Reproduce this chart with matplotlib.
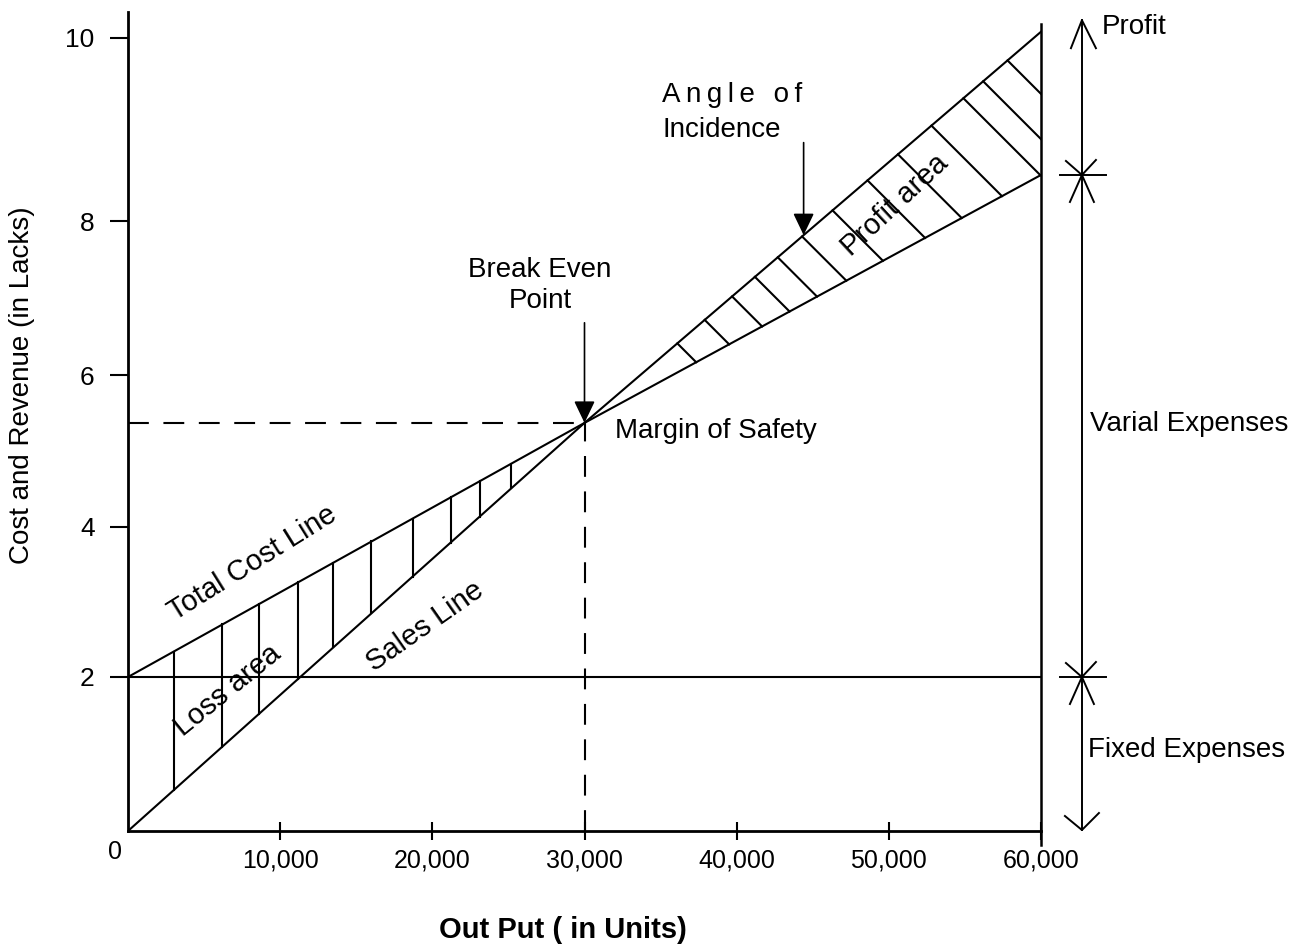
import numpy as np
import matplotlib.pyplot as plt

plt.rcParams['font.family'] = ['Liberation Sans', 'DejaVu Sans']

# data
output = [0, 30000, 60000]
sales = [0, 5.3, 10.38]
total_cost = [2, 5.3, 8.52]
fixed_cost = 2.0
break_even = (30000, 5.3)

xtick_vals = [10000, 20000, 30000, 40000, 50000, 60000]
xtick_labels = ['10,000', '20,000', '30,000', '40,000', '50,000', '60,000']
ytick_vals = [2, 3.95, 5.92, 7.92, 10.3]
ytick_labels = ['2', '4', '6', '8', '10']

loss_hatch_x = [3000, 6200, 8600, 11200, 13500, 16000, 18700, 21200, 23100, 25200]
profit_hatch_x = [36100, 37900, 39700, 41200, 42700, 44300, 46300, 48600,
                  50600, 52800, 54900, 56200, 57800]
angle_x = 44400
arrow_x = 62690

# figure / axes
W, H = 1303, 947
fig = plt.figure(figsize=(W / 100, H / 100), dpi=100)
ax = fig.add_axes([128 / W, 1 - 831 / H, 913 / W, 819 / H])
ax.set_xlim(0, 60000)
ax.set_ylim(0, 819 / 77)

# data units per pixel
UX = 60000 / 913
UY = (819 / 77) / 819

LW = 1.5
K = 'black'

for s in ['top', 'right']:
    ax.spines[s].set_visible(False)
ax.spines['left'].set_linewidth(2)
ax.spines['bottom'].set_linewidth(2)

ax.set_xticks(xtick_vals)
ax.set_xticklabels(xtick_labels)
ax.set_yticks(ytick_vals)
ax.set_yticklabels(ytick_labels)
ax.tick_params(axis='x', direction='inout', length=13, width=1.5, labelsize=18, pad=6)
ax.tick_params(axis='y', direction='out', length=13, width=1.5, labelsize=19, pad=11)
ax.annotate('0', xy=(0, 0), xytext=(-9.5, -15), textcoords='offset points',
            ha='center', va='center', fontsize=18, annotation_clip=False)

# main lines
ax.plot(output, sales, color=K, lw=LW)
ax.plot(output, total_cost, color=K, lw=LW)
ax.plot([0, 60000], [fixed_cost, fixed_cost], color=K, lw=LW)
ax.plot([60000, 60000], [-14 * UY, 10.48], color=K, lw=1.8, clip_on=False)

# break-even dashed lines
ax.plot([0, break_even[0]], [break_even[1]] * 2, color=K, lw=LW, dashes=(10, 7))
ax.plot([break_even[0]] * 2, [0, break_even[1]], color=K, lw=LW, dashes=(10, 7))

# loss area hatching
for x in loss_hatch_x:
    ax.plot([x, x], [np.interp(x, output, sales), np.interp(x, output, total_cost)],
            color=K, lw=LW)

# profit area hatching (45 degree strokes from sales line down to cost line)
kc = (total_cost[2] - total_cost[1]) / (output[2] - output[1])
for x0 in profit_hatch_x:
    s0 = np.interp(x0, output, sales)
    c0 = np.interp(x0, output, total_cost)
    t = (s0 - c0) / (UY + kc * UX)
    t = min(t, (60000 - x0) / UX)
    ax.plot([x0, x0 + t * UX], [s0, s0 - t * UY], color=K, lw=LW)

# arrows
head = dict(arrowstyle='-|>,head_length=0.9,head_width=0.43', color=K, lw=1.2,
            mutation_scale=15, shrinkA=0, shrinkB=0)
ax.annotate('', xy=break_even, xytext=(break_even[0], 6.6), arrowprops=head)
ax.annotate('', xy=(angle_x, np.interp(angle_x, output, sales)),
            xytext=(angle_x, 8.94), arrowprops=head)

# right hand scale
top_y, bot_y = 10.53, 0.013
ax.plot([arrow_x, arrow_x], [bot_y, top_y], color=K, lw=1.4, clip_on=False)
ax.plot([arrow_x - 11 * UX, arrow_x, arrow_x + 14 * UX],
        [top_y - 28 * UY, top_y, top_y - 28 * UY], color=K, lw=1.4, clip_on=False)
ax.plot([arrow_x - 17 * UX, arrow_x, arrow_x + 17 * UX],
        [bot_y + 14 * UY, bot_y, bot_y + 17 * UY], color=K, lw=1.4, clip_on=False)
for yc in [total_cost[-1], fixed_cost]:
    ax.plot([arrow_x - 22 * UX, arrow_x + 24 * UX], [yc, yc], color=K, lw=1.4, clip_on=False)
    for dx, dy in [(-16, 14), (14, 15), (-12, -27), (12, -27)]:
        ax.plot([arrow_x, arrow_x + dx * UX], [yc, yc + dy * UY], color=K, lw=1.4,
                clip_on=False)

# labels
fs = 20
rfs = 21
ax.text(8150, 3.48, 'Total Cost Line', rotation=32, ha='center', va='center', fontsize=rfs)
ax.text(19520, 2.66, 'Sales Line', rotation=35, ha='center', va='center', fontsize=rfs)
ax.text(6570, 1.83, 'Loss area', rotation=39, ha='center', va='center', fontsize=rfs)
ax.text(50400, 8.13, 'Profit area', rotation=43, ha='center', va='center', fontsize=rfs)
ax.text(32000, 5.19, 'Margin of Safety', ha='left', va='center', fontsize=fs)
ax.text(27080, 7.09, 'Break Even\nPoint', ha='center', va='center', fontsize=fs,
        linespacing=1.25)
ax.text(35100, 9.56, 'A\u2009n\u2009g\u2009l\u2009e\u2009 \u2009o\u2009f', ha='left',
        va='center', fontsize=fs)
ax.text(35100, 9.10, 'Incidence', ha='left', va='center', fontsize=fs)
ax.text(64010, 10.44, 'Profit', ha='left', va='center', fontsize=fs, clip_on=False)
ax.text(63220, 5.29, 'Varial Expenses', ha='left', va='center', fontsize=fs, clip_on=False)
ax.text(63090, 1.05, 'Fixed Expenses', ha='left', va='center', fontsize=fs, clip_on=False)

fig.text(22 / W, 1 - 385 / H, 'Cost and Revenue (in Lacks)', rotation=90,
         ha='center', va='center', fontsize=20)
fig.text(563 / W, 1 - 930 / H, 'Out Put ( in Units)', ha='center', va='center',
         fontsize=21, fontweight='bold')

fig.savefig('out.png', dpi=100)
